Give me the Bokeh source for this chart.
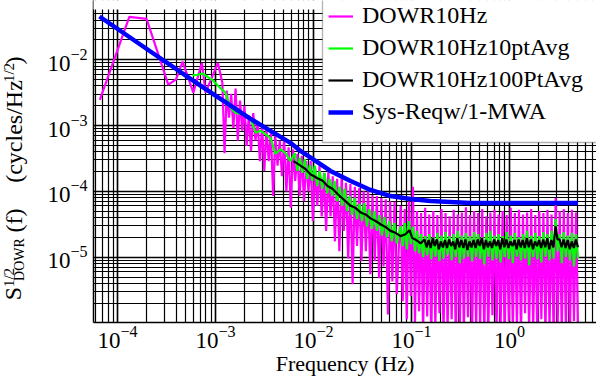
import math
import numpy as np
from bokeh.plotting import figure
from bokeh.layouts import row
from bokeh.models import Range1d, Label, Legend, LegendItem, BoxAnnotation
from bokeh.embed import file_html
from bokeh.resources import INLINE

# ---------------- data ----------------
# DOWR10Hz : first, resolved FFT bins
mag_sparse_f = [6.6e-5, 1.32e-4, 1.98e-4, 3.3e-4, 3.96e-4, 4.62e-4, 5.94e-4, 7.26e-4, 7.92e-4, 1.06e-3]
mag_sparse_log10 = [-2.61, -1.35, -1.38, -2.38, -2.30, -2.03, -2.50, -2.05, -2.50, -2.05]
# DOWR10Hz : dense part, alternating upper / lower excursions (log10 values)
mag_mid_f_log10_range = (-2.93, -1.15)
mag_mid_hi_log10 = [-2.35, -2.47, -2.52, -2.44, -2.62, -2.70, -2.85, -2.81, -2.96, -3.01,
                    -3.05, -3.11, -3.16, -3.23, -3.20, -3.33, -3.36, -3.43, -3.46, -3.54,
                    -3.54, -3.63, -3.61, -3.72, -3.69, -3.77, -3.81, -3.80, -3.87, -3.89,
                    -3.93, -3.95, -4.00, -4.00, -4.06, -4.07, -4.10, -4.12, -4.15, -4.16]
mag_mid_lo_log10 = [-3.42, -2.88, -3.04, -3.23, -3.08, -3.31, -3.39, -3.23, -3.54, -3.69,
                    -3.54, -4.07, -3.61, -3.77, -4.00, -4.25, -3.84, -4.07, -4.15, -4.00,
                    -4.45, -4.22, -4.38, -4.60, -4.38, -4.76, -4.91, -4.60, -5.02, -5.41,
                    -4.83, -5.06, -4.91, -5.26, -5.06, -5.32, -5.14, -5.87, -5.37, -5.56]
high_f_log10_range = (-1.11, 0.70)
mag_high_hi_log10 = [-4.22, -4.27, -4.15, -3.93, -4.30, -4.33, -4.25, -4.35, -4.30, -4.36,
                     -4.27, -4.33, -4.38, -4.28, -4.35, -4.32, -4.24, -4.36, -4.30, -4.33,
                     -4.27, -4.38, -4.32, -4.28, -4.35, -4.30, -4.36, -4.25, -4.33, -4.28,
                     -4.35, -4.32, -4.27, -4.36, -4.30, -4.33, -4.28, -4.35, -4.10, -4.30,
                     -4.27, -4.33, -4.28, -4.32]
mag_high_lo_log10 = [-5.67, -5.94, -5.59, -6.01, -5.82, -6.13, -5.90, -6.20, -6.05, -5.85,
                     -6.16, -6.10, -5.94, -6.20, -6.07, -6.13, -5.91, -6.19, -6.10, -6.01,
                     -6.22, -6.13, -5.88, -6.16, -6.08, -6.20, -5.97, -6.14, -6.07, -6.19,
                     -5.85, -6.13, -6.10, -6.22, -5.94, -6.16, -6.08, -6.19, -6.01, -6.13,
                     -6.07, -6.20, -5.97, -6.14]

# DOWR10Hz10ptAvg
grn_sparse_f = [5.82e-4, 6.55e-4, 7.36e-4, 8.28e-4, 9.31e-4, 1.02e-3, 1.12e-3, 1.26e-3, 1.42e-3,
                1.60e-3, 1.80e-3, 2.02e-3, 2.28e-3, 2.56e-3, 2.88e-3, 3.24e-3, 3.64e-3, 4.09e-3,
                4.61e-3, 5.18e-3, 5.82e-3]
grn_sparse_log10 = [-2.24, -2.23, -2.21, -2.26, -2.31, -2.37, -2.43, -2.50, -2.73, -2.81, -2.82,
                    -2.85, -2.90, -3.11, -3.08, -3.13, -3.19, -3.43, -3.36, -3.42, -3.54]
grn_mid_f_log10_range = (-2.19, -1.15)
grn_mid_hi_log10 = [-3.42, -3.49, -3.51, -3.60, -3.61, -3.69, -3.72, -3.81, -3.84, -3.93, -3.96,
                    -4.07, -4.10, -4.19, -4.18, -4.27, -4.30, -4.36, -4.39, -4.45, -4.48]
grn_mid_lo_log10 = [-3.69, -3.72, -3.81, -3.84, -3.92, -3.96, -4.03, -4.07, -4.15, -4.22, -4.30,
                    -4.36, -4.42, -4.45, -4.53, -4.57, -4.60, -4.67, -4.70, -4.76, -4.79]
grn_high_hi_log10 = [-4.53, -4.48, -4.45, -4.54, -4.60, -4.65, -4.68, -4.65, -4.70, -4.63,
                     -4.67, -4.62, -4.68, -4.65, -4.60, -4.67, -4.63, -4.68, -4.62, -4.65,
                     -4.70, -4.63, -4.60, -4.67, -4.65, -4.68, -4.62, -4.67, -4.63, -4.70,
                     -4.65, -4.60, -4.67, -4.63, -4.68, -4.62, -4.65, -4.60, -4.42, -4.65,
                     -4.62, -4.67, -4.63, -4.65]
grn_high_lo_log10 = [-4.83, -4.88, -4.80, -4.91, -4.94, -5.00, -4.97, -5.03, -4.99, -5.06,
                     -5.02, -4.97, -5.05, -5.00, -5.09, -5.02, -4.99, -5.06, -5.00, -5.03,
                     -5.11, -4.99, -5.05, -5.02, -5.08, -5.00, -5.03, -5.09, -4.99, -5.05,
                     -5.02, -5.12, -5.00, -5.03, -5.08, -4.99, -5.05, -5.02, -4.91, -5.09,
                     -5.00, -5.05, -5.14, -5.02]

# DOWR10Hz100PtAvg
blk_mid_f = [6.25e-3, 7.36e-3, 8.28e-3, 9.31e-3, 1.10e-2, 1.24e-2, 1.39e-2, 1.56e-2, 1.76e-2,
             2.02e-2, 2.39e-2, 2.68e-2, 3.02e-2, 3.40e-2, 3.82e-2, 4.30e-2, 4.83e-2, 5.43e-2,
             6.11e-2, 6.87e-2, 7.73e-2, 8.69e-2, 9.55e-2, 0.102, 0.112, 0.124]
blk_mid_log10 = [-3.54, -3.61, -3.66, -3.74, -3.80, -3.84, -3.92, -3.96, -4.04, -4.12, -4.22,
                 -4.25, -4.32, -4.35, -4.41, -4.45, -4.50, -4.54, -4.60, -4.63, -4.68, -4.65,
                 -4.59, -4.71, -4.74, -4.79]
blk_high_f_log10_range = (-0.867, 0.699)
blk_high_hi_log10 = [-4.73, -4.74, -4.71, -4.73, -4.76, -4.74, -4.73, -4.76, -4.71, -4.74,
                     -4.73, -4.76, -4.74, -4.73, -4.71, -4.74, -4.76, -4.73, -4.74, -4.71,
                     -4.73, -4.76, -4.74, -4.73, -4.74, -4.71, -4.73, -4.76, -4.74, -4.73,
                     -4.71, -4.74, -4.53, -4.73, -4.73, -4.74, -4.76, -4.73]
blk_high_lo_log10 = [-4.85, -4.86, -4.83, -4.88, -4.85, -4.86, -4.83, -4.88, -4.85, -4.86,
                     -4.89, -4.85, -4.86, -4.83, -4.88, -4.85, -4.86, -4.83, -4.88, -4.85,
                     -4.86, -4.83, -4.88, -4.85, -4.86, -4.85, -4.88, -4.83, -4.86, -4.85,
                     -4.88, -4.85, -4.73, -4.85, -4.86, -4.88, -4.86, -4.85]

# Sys-Reqw/1-MWA
req_f = [6.55e-5, 2.17e-4, 7.03e-4, 2.28e-3, 3.64e-3, 5.82e-3, 7.36e-3, 1.05e-2, 1.49e-2,
         2.39e-2, 3.82e-2, 6.11e-2, 9.77e-2, 0.156, 0.400, 5.0]
req_v = [4.52e-2, 1.33e-2, 4.02e-3, 1.26e-3, 8.29e-4, 5.45e-4, 4.11e-4, 2.90e-4, 2.04e-4,
         1.44e-4, 1.05e-4, 8.49e-5, 7.64e-5, 7.13e-5, 6.64e-5, 6.64e-5]

series_names = ["DOWR10Hz", "DOWR10Hz10ptAvg", "DOWR10Hz100PtAvg", "Sys-Reqw/1-MWA"]


def zigzag(hi, lo):
    return np.column_stack([hi, lo]).ravel()


mag_f = np.concatenate([mag_sparse_f,
                        np.logspace(*mag_mid_f_log10_range, 2 * len(mag_mid_hi_log10)),
                        np.logspace(*high_f_log10_range, 2 * len(mag_high_hi_log10))])
mag_v = 10.0 ** np.concatenate([mag_sparse_log10,
                                zigzag(mag_mid_hi_log10, mag_mid_lo_log10),
                                zigzag(mag_high_hi_log10, mag_high_lo_log10)])
grn_f = np.concatenate([grn_sparse_f,
                        np.logspace(*grn_mid_f_log10_range, 2 * len(grn_mid_hi_log10)),
                        np.logspace(*high_f_log10_range, 2 * len(grn_high_hi_log10))])
grn_v = 10.0 ** np.concatenate([grn_sparse_log10,
                                zigzag(grn_mid_hi_log10, grn_mid_lo_log10),
                                zigzag(grn_high_hi_log10, grn_high_lo_log10)])
blk_f = np.concatenate([blk_mid_f,
                        np.logspace(*blk_high_f_log10_range, 2 * len(blk_high_hi_log10))])
blk_v = 10.0 ** np.concatenate([blk_mid_log10, zigzag(blk_high_hi_log10, blk_high_lo_log10)])

# ---------------- layout constants ----------------
SERIF = "Liberation Serif"
H = 382
BOTTOM = 60         # space under the plotting area
FRAME_H = H - BOTTOM
LAB_W = 40          # narrow panel holding the y-axis title
MAIN_W = 596 - LAB_W

# ---------------- main figure ----------------
p = figure(width=MAIN_W, height=H, x_axis_type="log", y_axis_type="log",
           x_range=Range1d(5.69e-5, 7.73), y_range=Range1d(1.02e-6, 7.91e-2),
           output_backend="svg", toolbar_location=None,
           min_border_left=93 - LAB_W, min_border_right=0, min_border_top=0,
           min_border_bottom=BOTTOM)
p.outline_line_color = None
p.background_fill_color = "white"
p.border_fill_color = "white"

for ax in (p.xaxis[0], p.yaxis[0]):
    ax.ticker.num_minor_ticks = 10
    ax.major_label_text_font = SERIF
    ax.major_label_text_font_size = "23px"
    ax.major_label_text_color = "black"
    ax.major_tick_in = 0
    ax.major_tick_out = 0
    ax.minor_tick_in = 0
    ax.minor_tick_out = 0
    ax.axis_line_color = "black"
    ax.axis_line_width = 1.5
p.xaxis.major_label_standoff = 3
p.yaxis.major_label_standoff = 6
p.xaxis.axis_label = "Frequency (Hz)"
p.xaxis.axis_label_text_font = SERIF
p.xaxis.axis_label_text_font_size = "22px"
p.xaxis.axis_label_text_font_style = "normal"
p.xaxis.axis_label_text_color = "black"
p.xaxis.axis_label_standoff = 0

for g in (p.xgrid[0], p.ygrid[0]):
    g.grid_line_color = "black"
    g.grid_line_width = 1.5
    g.grid_line_alpha = 1.0
    g.minor_grid_line_color = "black"
    g.minor_grid_line_width = 1.2
    g.minor_grid_line_alpha = 1.0

r_mag = p.line(mag_f, mag_v, line_color="#ff00ff", line_width=2.2)
r_grn = p.line(grn_f, grn_v, line_color="#00ff00", line_width=2.2)
r_blk = p.line(blk_f, blk_v, line_color="black", line_width=2.2)
r_req = p.line(req_f, req_v, line_color="#0000ff", line_width=4.5)

# blank strip above the grid (the grid starts a few px below the top edge)
p.add_layout(BoxAnnotation(left=-2000, right=2000, bottom=FRAME_H - 9, top=2000,
                           left_units="screen", right_units="screen",
                           bottom_units="screen", top_units="screen",
                           fill_color="white", fill_alpha=1.0, line_color=None))

# legend box (white, black border) and legend items
p.add_layout(BoxAnnotation(left=229, right=2000, bottom=180, top=2000,
                           left_units="screen", right_units="screen",
                           bottom_units="screen", top_units="screen",
                           fill_color="white", fill_alpha=1.0,
                           line_color="black", line_width=1.3))

legend = Legend(items=[LegendItem(label=series_names[0], renderers=[r_mag]),
                       LegendItem(label=series_names[1], renderers=[r_grn]),
                       LegendItem(label=series_names[2], renderers=[r_blk]),
                       LegendItem(label=series_names[3], renderers=[r_req])],
                location=(235, 194.5), padding=6, margin=0, spacing=0,
                label_height=32, glyph_height=32, glyph_width=25, label_standoff=9,
                label_text_font=SERIF, label_text_font_size="24px",
                label_text_color="black",
                border_line_color=None, background_fill_alpha=0.0)
p.add_layout(legend)

# ---------------- y-axis title panel ----------------
lab = figure(width=LAB_W, height=H, output_backend="svg", toolbar_location=None,
             x_axis_type=None, y_axis_type=None, min_border=0)
lab.outline_line_color = None
lab.background_fill_color = "white"
lab.border_fill_color = "white"
lab.xgrid.visible = False
lab.ygrid.visible = False

# (text, font px, centre x, centre y) in canvas pixels; text reads bottom-to-top
ylabel_parts = [
    ("S", 24, 12, 293),
    ("1/2", 15, 8, 277),
    ("DOWR", 14, 19, 259),
    ("(f)", 24, 13, 220),
    ("(cycles/Hz", 24, 13, 131),
    ("1/2", 15, 8, 72),
    (")", 24, 13, 60),
]
# the row aligns the frames of both figures, so the panel frame spans y = 0 .. FRAME_H
for txt, fs, cx, cy in ylabel_parts:
    lab.add_layout(Label(x=cx, y=FRAME_H - cy, x_units="screen", y_units="screen", text=txt,
                         angle=math.pi / 2, text_align="center", text_baseline="middle",
                         text_font=SERIF, text_font_size=f"{fs}px", text_color="black"))

layout = row(lab, p, spacing=0)
open("out.html", "w").write(file_html(layout, INLINE))
